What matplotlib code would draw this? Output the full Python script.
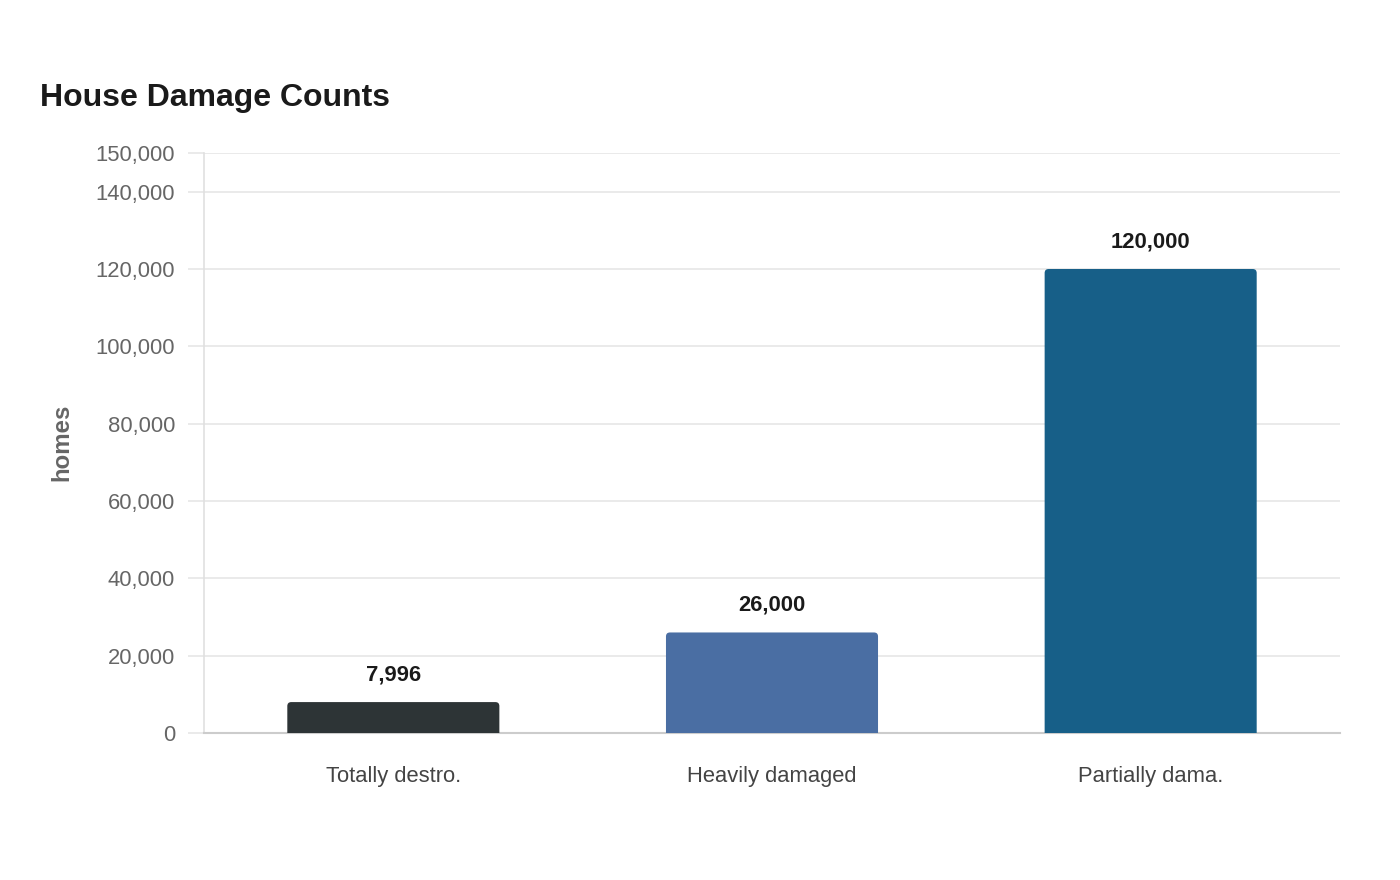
import matplotlib
matplotlib.use("Agg")
import matplotlib.pyplot as plt
from matplotlib.patches import PathPatch
from matplotlib.path import Path
from matplotlib.ticker import FuncFormatter

categories = ["Totally destro.", "Heavily damaged", "Partially dama."]
values = [7996, 26000, 120000]
colors = ["#2d3436", "#4a6ea3", "#175f88"]
yticks = [0, 20000, 40000, 60000, 80000, 100000, 120000, 140000, 150000]

plt.rcParams['font.family'] = ['Liberation Sans', 'DejaVu Sans']
PX = 0.72  # px -> pt at dpi 100

fig = plt.figure(figsize=(14, 8.8), dpi=100)
ax = fig.add_axes([204/1400, 1-733/880, (1340-204)/1400, (733-153)/880])

ax.set_xlim(-0.5, 2.5)
ax.set_ylim(0, 150000)

bw = 0.56
bars = ax.bar(range(len(categories)), values, width=bw, color=colors, zorder=3)

# rounded top corners
xpp = 3 / 1136          # x units per px
ypp = 150000 / 580      # y units per px
rx, ry = 4 * xpp, 4 * ypp
for b, c in zip(bars, colors):
    b.set_visible(False)
    x0, w, h = b.get_x(), b.get_width(), b.get_height()
    x1 = x0 + w
    verts = [(x0, 0), (x0, h - ry), (x0, h), (x0 + rx, h), (x1 - rx, h),
             (x1, h), (x1, h - ry), (x1, 0), (x0, 0)]
    codes = [Path.MOVETO, Path.LINETO, Path.CURVE3, Path.CURVE3, Path.LINETO,
             Path.CURVE3, Path.CURVE3, Path.LINETO, Path.CLOSEPOLY]
    ax.add_patch(PathPatch(Path(verts, codes), fc=c, ec="none", zorder=3))
    ax.text(x0 + w / 2, h + 27 * ypp, f"{int(h):,}", ha="center", va="center",
            fontsize=22 * PX, fontweight="bold", color="#1a1a1a", zorder=4)

ax.set_yticks(yticks)
ax.yaxis.set_major_formatter(FuncFormatter(lambda v, p: f"{int(v):,}"))
ax.tick_params(axis="y", length=16 * PX, width=1.2, color="#e6e6e6", labelsize=22 * PX,
               labelcolor="#666666", pad=13 * PX)
ax.set_xticks(range(len(categories)))
ax.set_xticklabels(categories)
ax.tick_params(axis="x", length=0, labelsize=22 * PX, labelcolor="#444444", pad=33 * PX)

ax.grid(axis="y", color="#e6e6e6", linewidth=1.2, zorder=0)
ax.set_axisbelow(True)
for s in ["top", "right"]:
    ax.spines[s].set_visible(False)
ax.spines["left"].set_color("#e0e0e0")
ax.spines["left"].set_linewidth(1.2)
ax.spines["bottom"].set_color("#cccccc")
ax.spines["bottom"].set_linewidth(1.5)

fig.text(62/1400, 1-442/880, "homes", rotation=90, ha="center", va="center",
         fontsize=24 * PX, fontweight="bold", color="#666666")
fig.text(40/1400, 1-98/880, "House Damage Counts", ha="left", va="center",
         fontsize=32 * PX, fontweight="bold", color="#1a1a1a")

fig.savefig("out.png", dpi=100, facecolor="white")
